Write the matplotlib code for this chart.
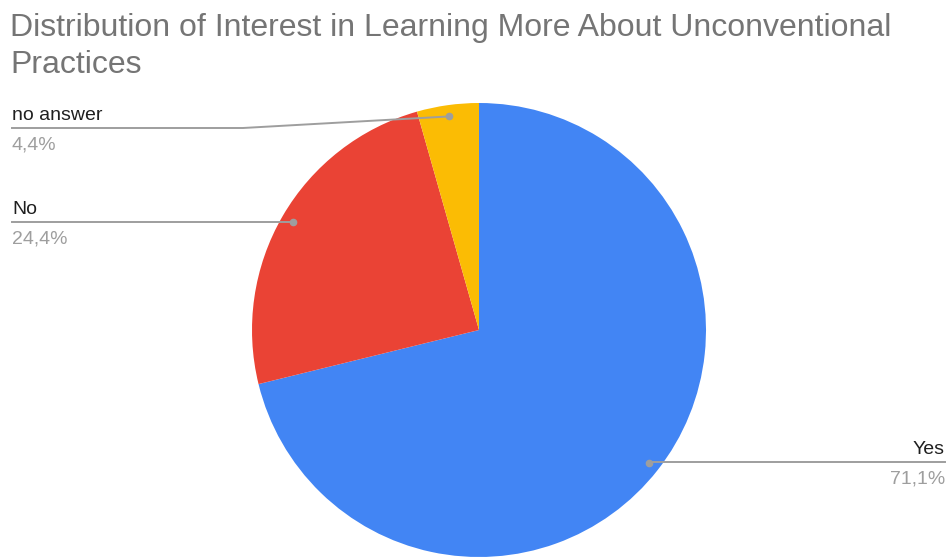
import numpy as np
import matplotlib
matplotlib.use("Agg")
import matplotlib.pyplot as plt
from matplotlib import font_manager

labels = ["Yes", "No", "no answer"]
values = [71.1, 24.4, 4.4]
pct_labels = ["71,1%", "24,4%", "4,4%"]
colors = ["#4285F4", "#EA4335", "#FBBC04"]

W, H = 951, 558
names = {f.name for f in font_manager.fontManager.ttflist}
title_font = "Liberation Sans Narrow" if "Liberation Sans Narrow" in names else "Liberation Sans"
plt.rcParams["font.family"] = ["Liberation Sans", "DejaVu Sans"]

fig = plt.figure(figsize=(W / 100, H / 100), dpi=100)
ax = fig.add_axes([0, 0, 1, 1])

cx, cy, r = 479, H - 330, 227
wedges, _ = ax.pie(values, colors=colors, startangle=90, counterclock=False,
                   center=(cx, cy), radius=r, frame=True,
                   wedgeprops=dict(linewidth=0))
ax.set_xlim(0, W)
ax.set_ylim(0, H)
ax.set_aspect("equal")
ax.axis("off")

line_c = "#9e9e9e"
# label line height (pixels from top) for each slice
label_y = {"Yes": 462, "No": 222, "no answer": 128}
for w, lab, pct in zip(wedges, labels, pct_labels):
    th = np.deg2rad((w.theta1 + w.theta2) / 2)
    dx, dy = cx + 0.95 * r * np.cos(th), cy + 0.95 * r * np.sin(th)
    ly = H - label_y[lab]
    ax.plot(dx, dy, "o", color=line_c, ms=4.5, zorder=5)
    if np.cos(th) > 0:
        ax.plot([dx, 945], [ly, ly], color=line_c, lw=1.4, zorder=4)
        ax.text(945, ly + 4, lab, ha="right", va="bottom", fontsize=14, color="#1f1f1f")
        ax.text(945, ly - 8, pct, ha="right", va="top", fontsize=14, color="#9e9e9e")
    else:
        if abs(ly - dy) > 2:
            ax.plot([12, 243, dx], [ly, ly, dy], color=line_c, lw=1.4, zorder=4)
        else:
            ax.plot([12, dx], [ly, ly], color=line_c, lw=1.4, zorder=4)
        ax.text(12, ly + 4, lab, ha="left", va="bottom", fontsize=14, color="#1f1f1f")
        ax.text(12, ly - 8, pct, ha="left", va="top", fontsize=14, color="#9e9e9e")

fig.text(10 / W, 1 - 36 / H, "Distribution of Interest in Learning More About Unconventional",
         fontsize=23, color="#757575", family=title_font, ha="left", va="baseline")
fig.text(10 / W, 1 - 73 / H, "Practices",
         fontsize=23, color="#757575", family=title_font, ha="left", va="baseline")

fig.savefig("out.png", dpi=100, facecolor="white")
